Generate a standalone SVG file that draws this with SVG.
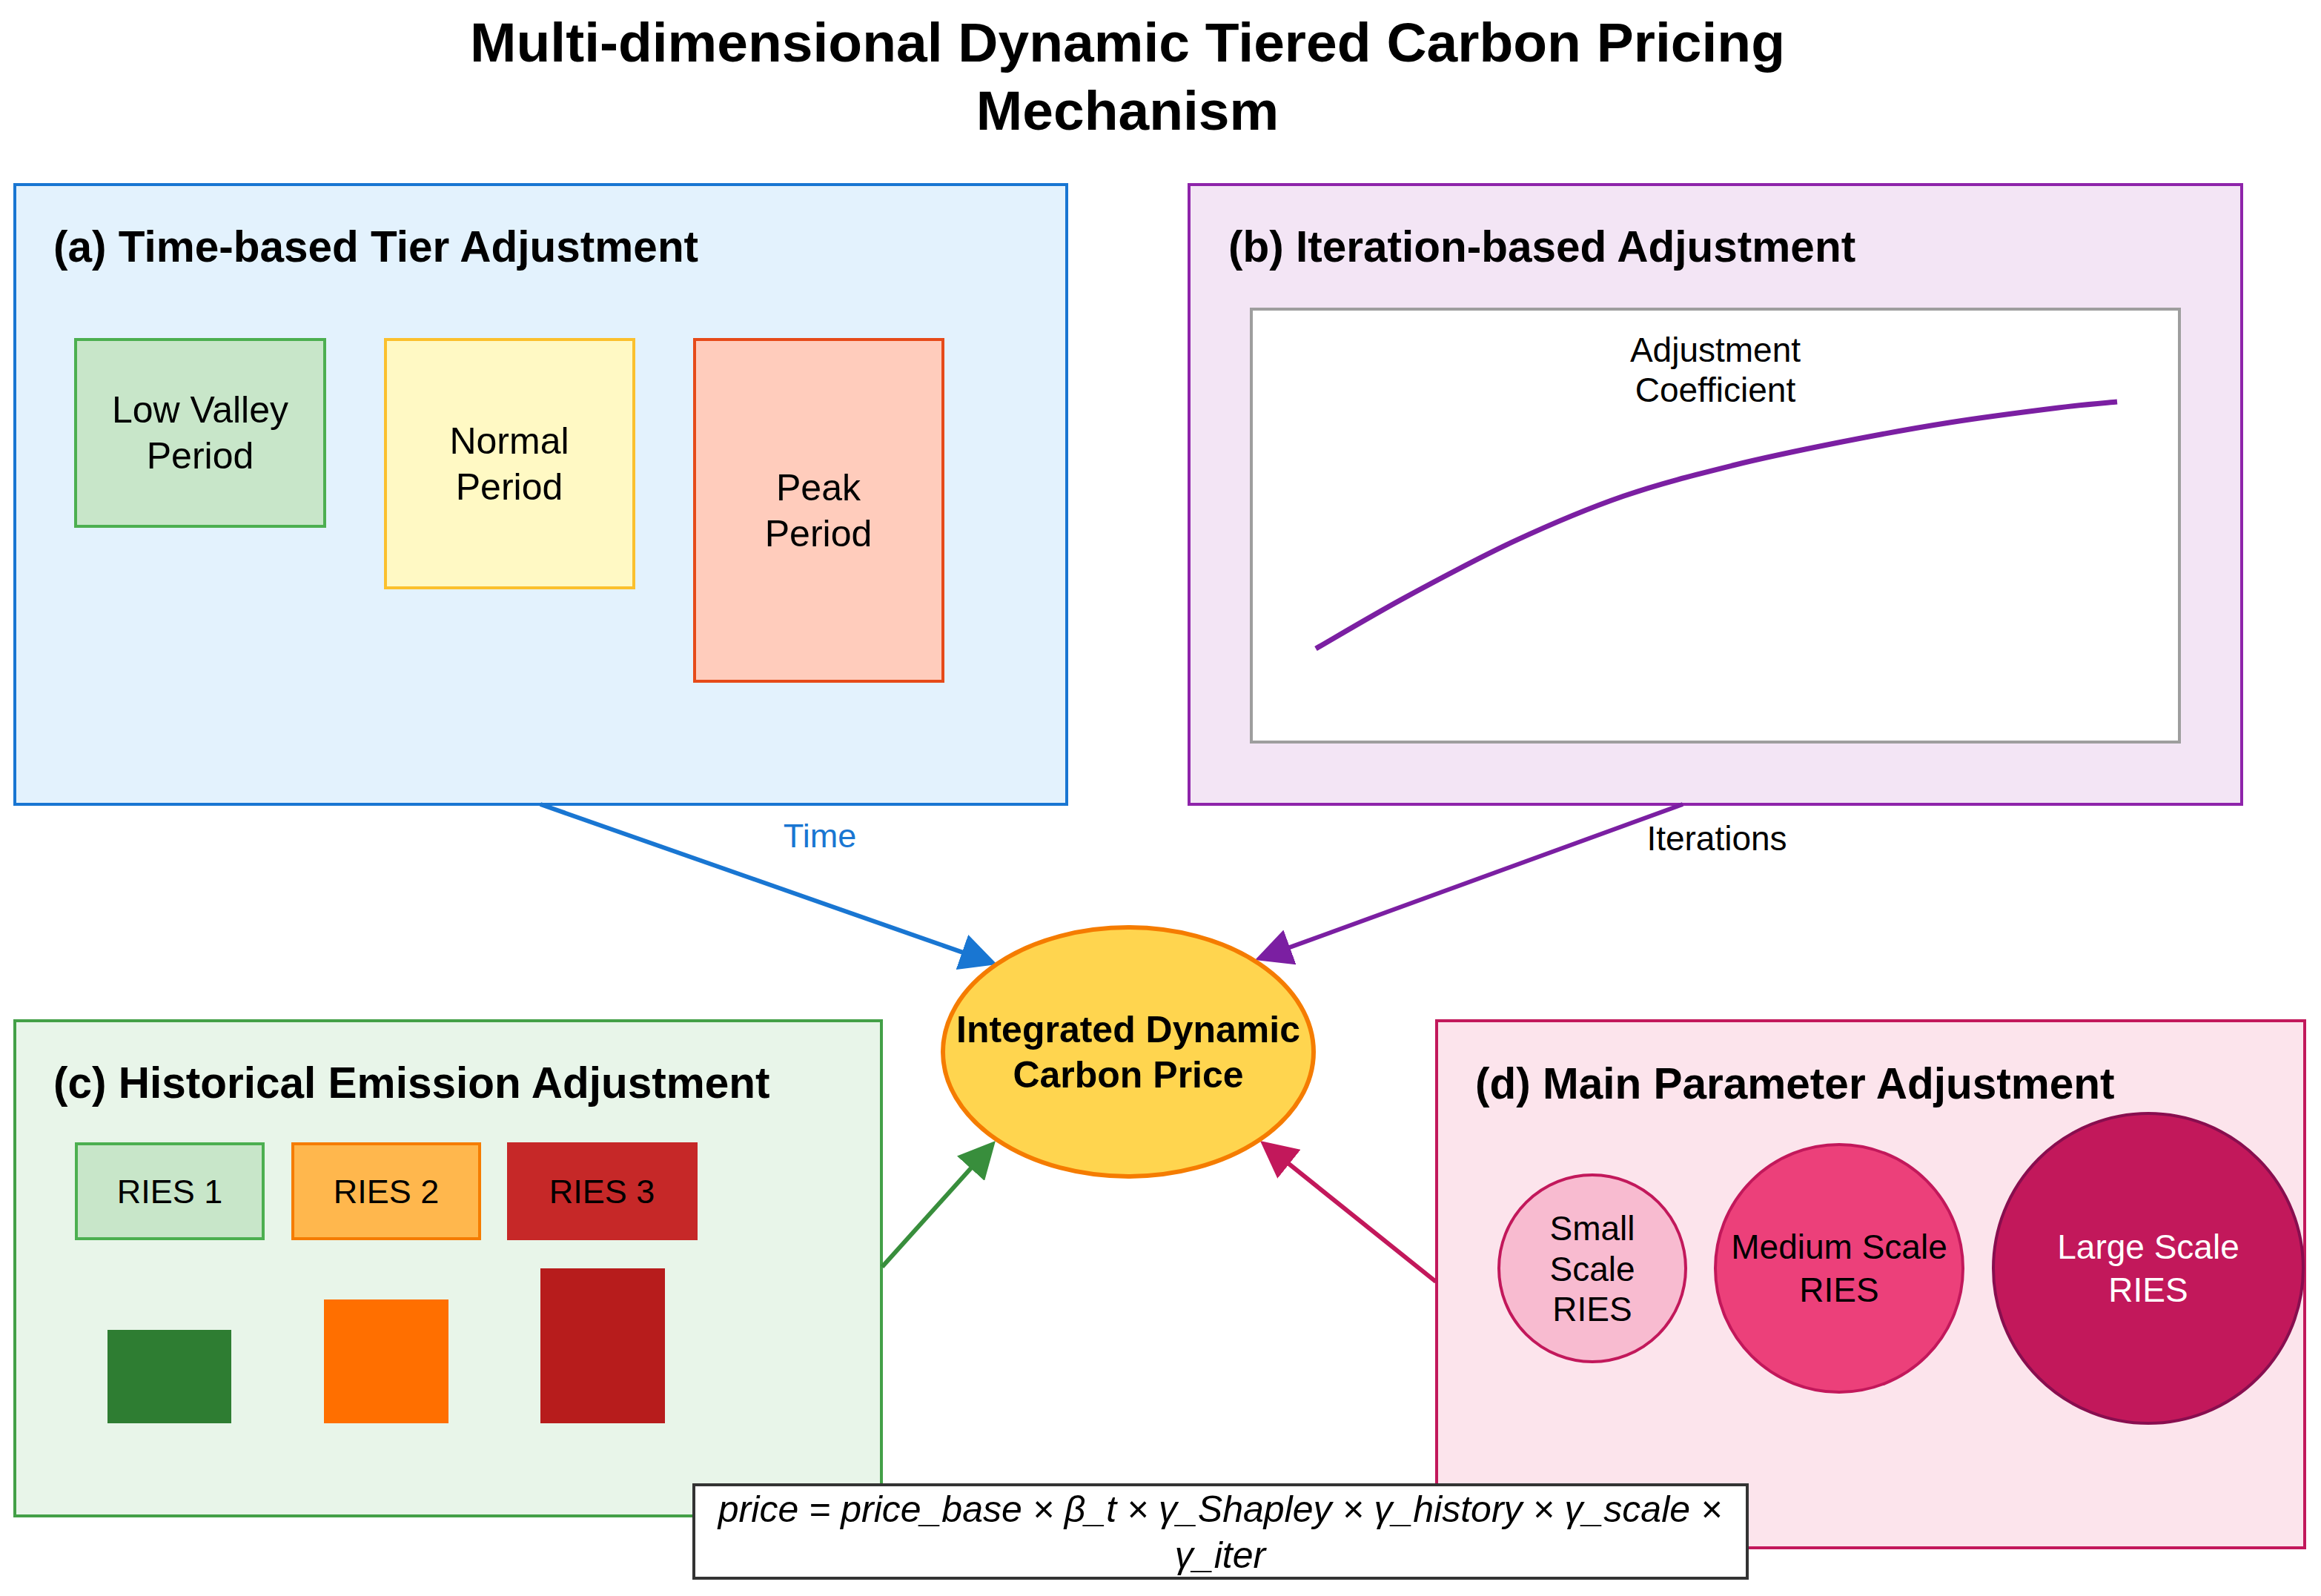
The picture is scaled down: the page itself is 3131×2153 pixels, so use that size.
<svg xmlns="http://www.w3.org/2000/svg" width="3131" height="2153" viewBox="0 0 3131 2153">
<defs>
<style>
text{font-family:"Liberation Sans",Arial,sans-serif;fill:#000}
.title{font-size:75px;font-weight:bold;text-anchor:middle}
.ptitle{font-size:58.5px;font-weight:bold}
.per{font-size:50px;text-anchor:middle}
.lbl{font-size:46px;text-anchor:middle}
.ries{font-size:45px;text-anchor:middle}
.panel{stroke-width:4}
.box{stroke-width:4}
.conn{fill:none;stroke-width:6}
</style>
<marker id="ah-blue" markerUnits="userSpaceOnUse" markerWidth="50" markerHeight="50" refX="42" refY="25" orient="auto"><path d="M0,0 L50,25 L0,50 z" fill="#1976D2"/></marker>
<marker id="ah-purple" markerUnits="userSpaceOnUse" markerWidth="50" markerHeight="50" refX="42" refY="25" orient="auto"><path d="M0,0 L50,25 L0,50 z" fill="#7B1FA2"/></marker>
<marker id="ah-green" markerUnits="userSpaceOnUse" markerWidth="50" markerHeight="50" refX="42" refY="25" orient="auto"><path d="M0,0 L50,25 L0,50 z" fill="#388E3C"/></marker>
<marker id="ah-pink" markerUnits="userSpaceOnUse" markerWidth="50" markerHeight="50" refX="42" refY="25" orient="auto"><path d="M0,0 L50,25 L0,50 z" fill="#C2185B"/></marker>
</defs>
<rect width="3131" height="2153" fill="#fff"/>
<g id="title">
<text class="title" x="1521" y="83">Multi-dimensional Dynamic Tiered Carbon Pricing</text>
<text class="title" x="1521" y="175">Mechanism</text>
</g>
<g id="panel-a">
<rect class="panel" x="20" y="249" width="1419" height="836" fill="#E3F2FD" stroke="#1976D2"/>
<text class="ptitle" x="72" y="353">(a) Time-based Tier Adjustment</text>
<g id="low-valley">
<rect class="box" x="102" y="458" width="336" height="252" fill="#C8E6C9" stroke="#4CAF50"/>
<text class="per" x="270" y="570">Low Valley</text>
<text class="per" x="270" y="632">Period</text>
</g>
<g id="normal">
<rect class="box" x="520" y="458" width="335" height="335" fill="#FFF9C4" stroke="#FBC02D"/>
<text class="per" x="687" y="612">Normal</text>
<text class="per" x="687" y="674">Period</text>
</g>
<g id="peak">
<rect class="box" x="937" y="458" width="335" height="461" fill="#FFCCBC" stroke="#E64A19"/>
<text class="per" x="1104" y="675">Peak</text>
<text class="per" x="1104" y="737">Period</text>
</g>
</g>
<g id="panel-b">
<rect class="panel" x="1604" y="249" width="1420" height="836" fill="#F3E5F5" stroke="#8E24AA"/>
<text class="ptitle" x="1657" y="353">(b) Iteration-based Adjustment</text>
<rect x="1688" y="417" width="1252" height="584" fill="#fff" stroke="#9E9E9E" stroke-width="4"/>
<text class="lbl" x="2314" y="488">Adjustment</text>
<text class="lbl" x="2314" y="542">Coefficient</text>
<path fill="none" stroke="#7B1FA2" stroke-width="7" d="M1775,875 C1795.3,863.4 1851.95,829.5 1896.7,805.3 C1941.45,781.1 1994.6,752.4 2043.5,729.7 C2092.4,707 2141.1,686.25 2190,669.3 C2238.9,652.35 2288.05,640.17 2337,628 C2385.95,615.83 2434.87,605.97 2483.7,596.3 C2532.53,586.63 2581.12,577.72 2630,570 C2678.88,562.28 2739.33,554.67 2777,550 C2814.67,545.33 2842.83,543.33 2856,542"/>
</g>
<g id="panel-c">
<rect class="panel" x="20" y="1377" width="1169" height="668" fill="#E8F5E9" stroke="#43A047"/>
<text class="ptitle" x="72" y="1481">(c) Historical Emission Adjustment</text>
<g id="ries1">
<rect class="box" x="103" y="1543" width="252" height="128" fill="#C8E6C9" stroke="#4CAF50"/>
<text class="ries" x="229" y="1623">RIES 1</text>
<rect x="145" y="1794" width="167" height="126" fill="#2E7D32"/>
</g>
<g id="ries2">
<rect class="box" x="395" y="1543" width="252" height="128" fill="#FFB74D" stroke="#F57C00"/>
<text class="ries" x="521" y="1623">RIES 2</text>
<rect x="437" y="1753" width="168" height="167" fill="#FF6F00"/>
</g>
<g id="ries3">
<rect class="box" x="686" y="1543" width="253" height="128" fill="#C62828" stroke="#C62828"/>
<text class="ries" x="812" y="1623">RIES 3</text>
<rect x="729" y="1711" width="168" height="209" fill="#B71C1C"/>
</g>
</g>
<g id="panel-d">
<rect class="panel" x="1938" y="1377" width="1171" height="711" fill="#FCE4EC" stroke="#C2185B"/>
<text class="ptitle" x="1990" y="1482">(d) Main Parameter Adjustment</text>
<g id="small">
<circle cx="2148" cy="1711" r="126" fill="#F8BBD0" stroke="#C2185B" stroke-width="4"/>
<text class="lbl" x="2148" y="1673">Small</text>
<text class="lbl" x="2148" y="1728">Scale</text>
<text class="lbl" x="2148" y="1782">RIES</text>
</g>
<g id="medium">
<circle cx="2481" cy="1711" r="167" fill="#EC407A" stroke="#C2185B" stroke-width="4"/>
<text class="lbl" x="2481" y="1698">Medium Scale</text>
<text class="lbl" x="2481" y="1756">RIES</text>
</g>
<g id="large">
<circle cx="2898" cy="1711" r="209" fill="#C2185B" stroke="#880E4F" stroke-width="4"/>
<text class="lbl" x="2898" y="1698" style="fill:#fff">Large Scale</text>
<text class="lbl" x="2898" y="1756" style="fill:#fff">RIES</text>
</g>
</g>
<g id="connectors">
<line class="conn" x1="729" y1="1085" x2="1337.5" y2="1298.4" stroke="#1976D2" marker-end="url(#ah-blue)"/>
<text x="1106" y="1143" style="font-size:45px;text-anchor:middle;fill:#1976D2">Time</text>
<line class="conn" x1="2270" y1="1085" x2="1700.5" y2="1292.3" stroke="#7B1FA2" marker-end="url(#ah-purple)"/>
<text x="2316" y="1147" style="font-size:46px;text-anchor:middle">Iterations</text>
<line class="conn" x1="1190" y1="1709" x2="1337.6" y2="1545" stroke="#388E3C" marker-end="url(#ah-green)"/>
<line class="conn" x1="1937" y1="1729" x2="1706.2" y2="1544" stroke="#C2185B" marker-end="url(#ah-pink)"/>
</g>
<g id="center">
<ellipse cx="1522" cy="1419" rx="250" ry="168" fill="#FFD54F" stroke="#F57C00" stroke-width="6"/>
<text x="1522" y="1406" style="font-size:50px;font-weight:bold;text-anchor:middle">Integrated Dynamic</text>
<text x="1522" y="1467" style="font-size:50px;font-weight:bold;text-anchor:middle">Carbon Price</text>
</g>
<g id="formula">
<rect x="936" y="2003" width="1421" height="126" fill="#fff" stroke="#333" stroke-width="4"/>
<text x="1646" y="2053" style="font-size:50px;font-style:italic;text-anchor:middle">price = price_base × β_t × γ_Shapley × γ_history × γ_scale ×</text>
<text x="1646" y="2115" style="font-size:50px;font-style:italic;text-anchor:middle">γ_iter</text>
</g>
</svg>
